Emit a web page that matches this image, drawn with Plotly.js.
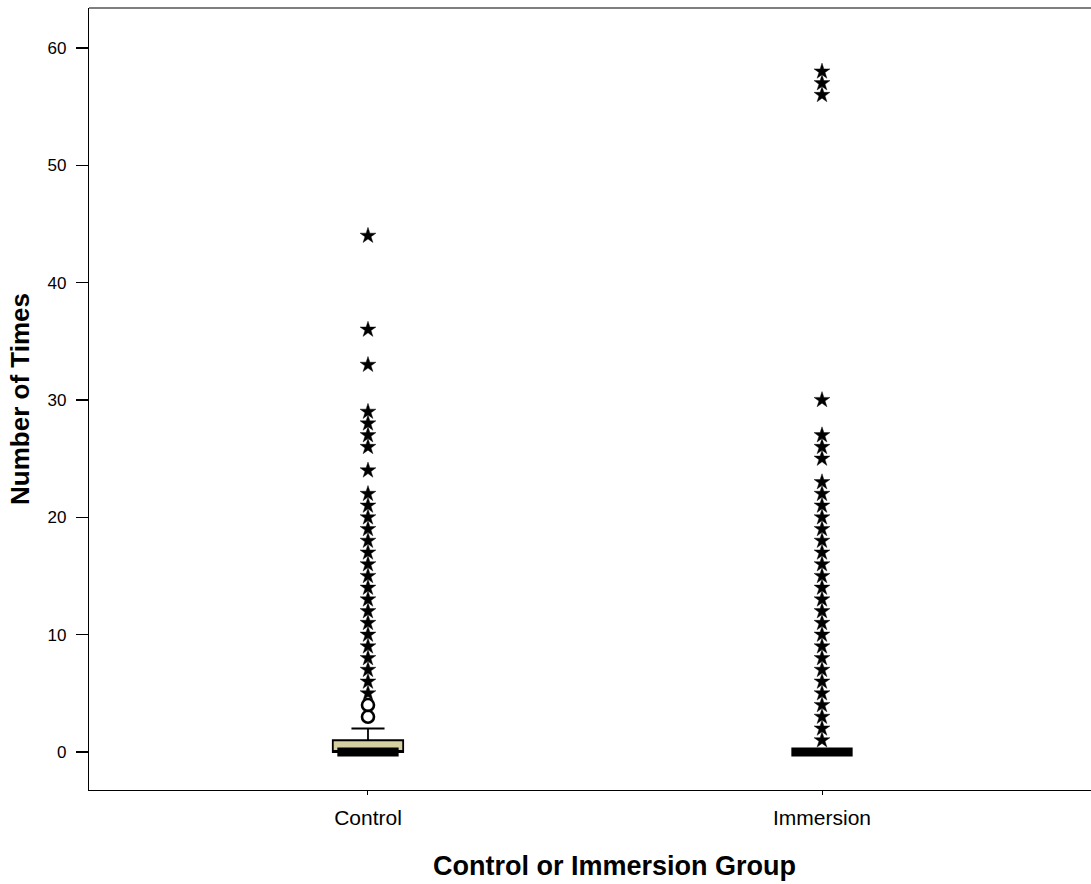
<!DOCTYPE html>
<html>
<head>
<meta charset="utf-8">
<script src="https://cdn.plot.ly/plotly-3.0.1.min.js"></script>
<style>html,body{margin:0;padding:0;background:#fff;}#chart{width:1091px;height:884px;}</style>
</head>
<body>
<div id="chart"></div>
<script>
// Categories and box statistics
const categories = ['Control', 'Immersion'];
const boxQ1 = [0, 0];
const boxMedian = [0, 0];
const boxQ3 = [1, 0];
const boxLowerFence = [0, 0];
const boxUpperFence = [2, 0];

// Outliers (circles) and extremes (asterisks)
const controlOutliers = [3, 4];
const controlExtremes = [5, 6, 7, 8, 9, 10, 11, 12, 13, 14, 15, 16, 17, 18, 19, 20, 21, 22, 24, 26, 27, 28, 29, 33, 36, 44];
const immersionExtremes = [1, 2, 3, 4, 5, 6, 7, 8, 9, 10, 11, 12, 13, 14, 15, 16, 17, 18, 19, 20, 21, 22, 23, 25, 26, 27, 30, 56, 57, 58];

const yTickVals = [0, 10, 20, 30, 40, 50, 60];
const xTitle = 'Control or Immersion Group';
const yTitle = 'Number of Times';

const FONT = 'Arial, "Liberation Sans", Helvetica, sans-serif';

const starMarker = {symbol: 'star', size: 12, color: '#000', line: {width: 0.4, color: '#000'}};

const traces = [
  {
    type: 'box',
    x: categories.slice(0, 1),
    q1: boxQ1.slice(0, 1),
    median: boxMedian.slice(0, 1),
    q3: boxQ3.slice(0, 1),
    lowerfence: boxLowerFence.slice(0, 1),
    upperfence: boxUpperFence.slice(0, 1),
    fillcolor: '#d5cfa1',
    line: {color: '#000', width: 1.8},
    whiskerwidth: 0.47,
    width: 0.155,
    boxpoints: false,
    hoverinfo: 'skip',
    showlegend: false
  },
  {
    type: 'box',
    x: categories,
    q1: boxMedian,
    median: boxMedian,
    q3: boxMedian,
    lowerfence: boxMedian,
    upperfence: boxMedian,
    fillcolor: '#000',
    line: {color: '#000', width: 9},
    whiskerwidth: 0,
    width: 0.135,
    boxpoints: false,
    hoverinfo: 'skip',
    showlegend: false
  },
  {
    type: 'scatter',
    mode: 'markers',
    x: controlOutliers.map(() => categories[0]),
    y: controlOutliers,
    marker: {symbol: 'circle-open', size: 12, color: '#000', line: {width: 2.6, color: '#000'}},
    hoverinfo: 'y',
    showlegend: false
  },
  {
    type: 'scatter',
    mode: 'markers',
    x: controlExtremes.map(() => categories[0]),
    y: controlExtremes,
    marker: starMarker,
    hoverinfo: 'y',
    showlegend: false
  },
  {
    type: 'scatter',
    mode: 'markers',
    x: immersionExtremes.map(() => categories[1]),
    y: immersionExtremes,
    marker: starMarker,
    hoverinfo: 'y',
    showlegend: false
  }
];

const layout = {
  width: 1091,
  height: 884,
  margin: {l: 89, r: 0, t: 8, b: 94},
  paper_bgcolor: '#fff',
  plot_bgcolor: '#fff',
  boxmode: 'overlay',
  font: {family: FONT, color: '#000'},
  xaxis: {
    type: 'category',
    categoryarray: categories,
    range: [-0.6145, 1.5925],
    showline: true,
    linecolor: '#000',
    linewidth: 1.2,
    ticks: 'outside',
    ticklen: 4,
    tickcolor: '#000',
    ticklabelstandoff: 5,
    tickfont: {size: 21, family: FONT, color: '#000'},
    showgrid: false,
    zeroline: false
  },
  yaxis: {
    range: [-3.24, 63.41],
    tickvals: yTickVals,
    ticktext: yTickVals.map(String),
    showline: true,
    linecolor: '#000',
    linewidth: 1.2,
    ticks: 'outside',
    ticklen: 12,
    tickwidth: 1.2,
    tickcolor: '#000',
    ticklabelstandoff: 6,
    tickfont: {size: 17, family: FONT, color: '#000'},
    showgrid: false,
    zeroline: false,
    title: {text: yTitle, font: {size: 26, family: FONT, color: '#000', weight: 'bold'}, standoff: 10}
  },
  annotations: [
    {text: '<b>' + xTitle + '</b>', xref: 'paper', yref: 'paper', x: 0.524, y: -0.097, xanchor: 'center', yanchor: 'middle',
     showarrow: false, font: {size: 27, family: FONT, color: '#000'}}
  ],
  shapes: [
    {type: 'line', xref: 'paper', yref: 'paper', x0: 0, x1: 1, y0: 1, y1: 1, line: {color: '#000', width: 1.2}}
  ]
};

Plotly.newPlot('chart', traces, layout, {displayModeBar: false, staticPlot: true});
</script>
</body>
</html>
